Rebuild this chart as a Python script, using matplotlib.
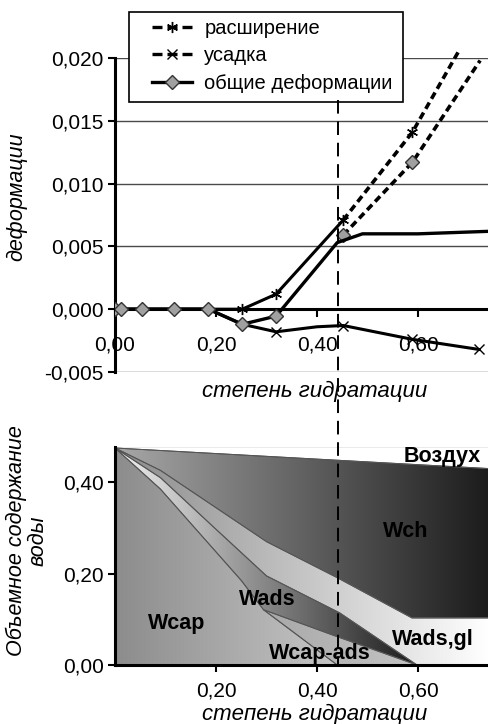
import matplotlib
matplotlib.use('Agg')
import matplotlib.pyplot as plt
import numpy as np
from matplotlib.colors import LinearSegmentedColormap
from matplotlib.lines import Line2D
from matplotlib.patches import Polygon, Rectangle
import matplotlib.transforms as mtransforms
from matplotlib.ticker import FuncFormatter

plt.rcParams.update({
    'font.family': ['Liberation Sans', 'DejaVu Sans'],
    'font.size': 15,
})

# --- top chart: deformations vs degree of hydration ---
expansion_x = [0.0, 0.011, 0.053, 0.117, 0.185, 0.252, 0.319, 0.452]
expansion_y = [0.0, 0.0, 0.0, 0.0, 0.0, 0.0, 0.0012, 0.0071]
expansion_ext_x = [0.452, 0.589, 0.68]
expansion_ext_y = [0.0071, 0.0141, 0.0205]

shrink_x = [0.0, 0.011, 0.053, 0.117, 0.185, 0.252, 0.319, 0.40, 0.452, 0.589, 0.72]
shrink_y = [0.0, 0.0, 0.0, 0.0, 0.0, -0.0012, -0.0018, -0.0014, -0.0013, -0.0024, -0.0032]

total_x = [0.0, 0.011, 0.053, 0.117, 0.185, 0.252, 0.319, 0.44, 0.49, 0.60, 0.74]
total_y = [0.0, 0.0, 0.0, 0.0, 0.0, -0.0012, -0.00055, 0.0053, 0.0060, 0.0060, 0.0062]
total_ext_x = [0.452, 0.589, 0.723]
total_ext_y = [0.0059, 0.0117, 0.0198]

legend_labels = ['расширение', 'усадка', 'общие деформации']
top_yticks = [-0.005, 0.0, 0.005, 0.010, 0.015, 0.020]
top_xticks = [0.0, 0.2, 0.4, 0.6]
hydration_mark = 0.442

# --- bottom chart: volume water content boundaries ---
air_top_x = [0.0, 0.74]
air_top_y = [0.478, 0.478]
wch_top_x = [0.0, 0.74]
wch_top_y = [0.475, 0.430]
wch_bot_x = [0.0, 0.09, 0.30, 0.442, 0.588, 0.74]
wch_bot_y = [0.475, 0.426, 0.27, 0.19, 0.103, 0.103]
wads_top_x = [0.0, 0.09, 0.20, 0.30, 0.445, 0.598, 0.74]
wads_top_y = [0.475, 0.41, 0.297, 0.195, 0.114, 0.0, 0.0]
wads_bot_x = [0.0, 0.09, 0.25, 0.294, 0.44, 0.598]
wads_bot_y = [0.475, 0.385, 0.185, 0.121, 0.062, 0.0]
wcap_top_x = [0.0, 0.09, 0.25, 0.294, 0.44]
wcap_top_y = [0.475, 0.385, 0.185, 0.121, 0.0]
bottom_yticks = [0.0, 0.2, 0.4]
bottom_xticks = [0.2, 0.4, 0.6]

XMAX = 0.7386

fig = plt.figure(figsize=(4.88, 7.24), dpi=100)


def comma(v, pos=None, nd=3):
    return f"{v:.{nd}f}".replace('.', ',')


# ================= top chart =================
ax1 = fig.add_axes([0.2357, 0.4862, 0.7643, 0.4337])
ax1.set_xlim(0, XMAX)
ax1.set_ylim(-0.005, 0.020)
for v in [-0.005, 0.005, 0.010, 0.015, 0.020]:
    ax1.axhline(v, color='#4a4a4a', lw=1.0, zorder=1)

ax1.spines['top'].set_visible(False)
ax1.spines['right'].set_visible(False)
ax1.spines['left'].set_linewidth(2.2)
ax1.spines['bottom'].set_linewidth(2.2)
ax1.spines['bottom'].set_position(('data', 0))
ax1.set_yticks(top_yticks)
ax1.yaxis.set_major_formatter(FuncFormatter(lambda v, p: comma(v, p, 3)))
ax1.set_xticks(top_xticks)
ax1.xaxis.set_major_formatter(FuncFormatter(lambda v, p: comma(v, p, 2)))
ax1.tick_params(axis='y', direction='out', length=5, width=1.5, pad=3, labelsize=15)
ax1.tick_params(axis='x', direction='out', length=6, width=1.5, pad=13, labelsize=15)

diamond = dict(marker='D', markersize=7, markerfacecolor='#a0a0a0',
               markeredgecolor='#333333', markeredgewidth=1.0)
star = (6, 2, 0)

ax1.plot(total_x, total_y, color='black', lw=2.4, markevery=list(range(7)),
         zorder=4, **diamond)
ax1.plot(shrink_x, shrink_y, color='black', lw=2.2, marker='x', markersize=7,
         markeredgewidth=1.0, markevery=[6, 8, 9, 10], zorder=3)
ax1.plot(expansion_x, expansion_y, color='black', lw=2.2, marker=star,
         markersize=8, markeredgewidth=1.0, markevery=[5, 6, 7], zorder=3)
ax1.plot(expansion_ext_x, expansion_ext_y, color='black', lw=2.6,
         dashes=(2.0, 1.2), marker=star, markersize=8, markeredgewidth=1.0,
         markevery=[1], zorder=3, clip_on=False)
ax1.plot(total_ext_x, total_ext_y, color='black', lw=2.6,
         dashes=(2.0, 1.2), markevery=[0, 1], zorder=3, clip_on=False, **diamond)

handles = [
    Line2D([], [], color='black', lw=2.4, dashes=(3, 1.5), marker=star,
           markersize=8, markeredgewidth=1.0),
    Line2D([], [], color='black', lw=2.4, dashes=(3, 1.5), marker='x',
           markersize=7, markeredgewidth=1.0),
    Line2D([], [], color='black', lw=2.4, **diamond),
]
# legend frame drawn as a separate box (asymmetric padding in the original)
fig.add_artist(Rectangle((129 / 488, 1 - 102 / 724), 274 / 488, 90 / 724,
                         transform=fig.transFigure, facecolor='white',
                         edgecolor='black', lw=1.2, zorder=8))
leg = fig.legend(handles, legend_labels, loc='upper left',
                 bbox_to_anchor=(152 / 488, 1 - 19 / 724), frameon=False,
                 fontsize=14.5, handlelength=2.0, labelspacing=0.42,
                 borderpad=0, handletextpad=0.6, borderaxespad=0)
leg.set_zorder(9)

fig.text(17 / 488, 1 - 197 / 724, 'деформации', rotation=90, style='italic',
         ha='center', va='center', fontsize=15.5)
fig.text(315 / 488, 1 - 391 / 724, 'степень гидратации', style='italic',
         ha='center', va='center', fontsize=16)

# ================= bottom chart =================
ax2 = fig.add_axes([0.2357, 0.0815, 0.7643, 0.3016])
ax2.set_xlim(0, XMAX)
ax2.set_ylim(0, 0.478)


def band(ax, xu, yu, xl, yl, c0, c1, x0, x1):
    verts = list(zip(xu, yu)) + list(zip(xl, yl))[::-1]
    patch = Polygon(verts, closed=True, facecolor='none', edgecolor='#555555',
                    lw=0.7, zorder=3)
    ax.add_patch(patch)
    cmap = LinearSegmentedColormap.from_list('g', [c0, c1])
    grad = np.linspace(0, 1, 256).reshape(1, -1)
    im = ax.imshow(grad, extent=[x0, x1, 0, 0.478], aspect='auto', cmap=cmap,
                   origin='lower', interpolation='bilinear', zorder=2)
    im.set_clip_path(patch)


band(ax2, air_top_x, air_top_y, wch_top_x, wch_top_y, '#ffffff', '#ffffff', 0, 0.74)
band(ax2, wch_top_x, wch_top_y, wch_bot_x, wch_bot_y, '#a8a8a8', '#1c1c1c', 0, 0.74)
band(ax2, wch_bot_x, wch_bot_y, wads_top_x, wads_top_y, '#8a8a8a', '#ffffff', 0, 0.74)
band(ax2, wads_top_x[:6], wads_top_y[:6], wads_bot_x, wads_bot_y, '#f2f2f2', '#1a1a1a', 0, 0.6)
band(ax2, wads_bot_x[3:], wads_bot_y[3:], wcap_top_x[3:] + [0.598], wcap_top_y[3:] + [0.0],
     '#a8a8a8', '#c4c4c4', 0.294, 0.6)
band(ax2, wcap_top_x, wcap_top_y, [0.0, 0.44], [0.0, 0.0], '#8c8c8c', '#c6c6c6', 0, 0.44)

ax2.set_xlim(0, XMAX)
ax2.set_ylim(0, 0.478)
ax2.spines['top'].set_visible(False)
ax2.spines['right'].set_visible(False)
ax2.spines['left'].set_linewidth(2.2)
ax2.spines['bottom'].set_linewidth(2.2)
for s in ax2.spines.values():
    s.set_zorder(5)
ax2.set_yticks(bottom_yticks)
ax2.yaxis.set_major_formatter(FuncFormatter(lambda v, p: comma(v, p, 2)))
ax2.set_xticks(bottom_xticks)
ax2.xaxis.set_major_formatter(FuncFormatter(lambda v, p: comma(v, p, 2)))
ax2.tick_params(axis='y', direction='out', length=5, width=1.5, pad=3, labelsize=15)
ax2.tick_params(axis='x', direction='out', length=5, width=1.5, pad=7, labelsize=15)

bold = dict(fontweight='bold', fontsize=15.5, ha='center', va='center', zorder=6)
ax2.text(0.648, 0.457, 'Воздух', **bold)
ax2.text(0.576, 0.292, 'Wch', **bold)
ax2.text(0.301, 0.143, 'Wads', **bold)
ax2.text(0.123, 0.090, 'Wcap', **bold)
ax2.text(0.630, 0.055, 'Wads,gl', **bold)
ax2.text(0.406, 0.026, 'Wcap-ads', **bold)

fig.text(315 / 488, 1 - 714 / 724, 'степень гидратации', style='italic',
         ha='center', va='center', fontsize=16)
fig.text(27 / 488, 1 - 541 / 724, 'Объемное содержание\nводы', rotation=90,
         style='italic', ha='center', va='center', ma='center', fontsize=15.5,
         linespacing=1.0)

# vertical dashed marker across both charts
trans = mtransforms.blended_transform_factory(ax1.transData, fig.transFigure)
fig.add_artist(Line2D([hydration_mark, hydration_mark], [1 - 100 / 724, 1 - 665 / 724],
                      transform=trans, color='black', lw=1.4, dashes=(7, 4), zorder=10))

fig.savefig('out.png', dpi=100)
